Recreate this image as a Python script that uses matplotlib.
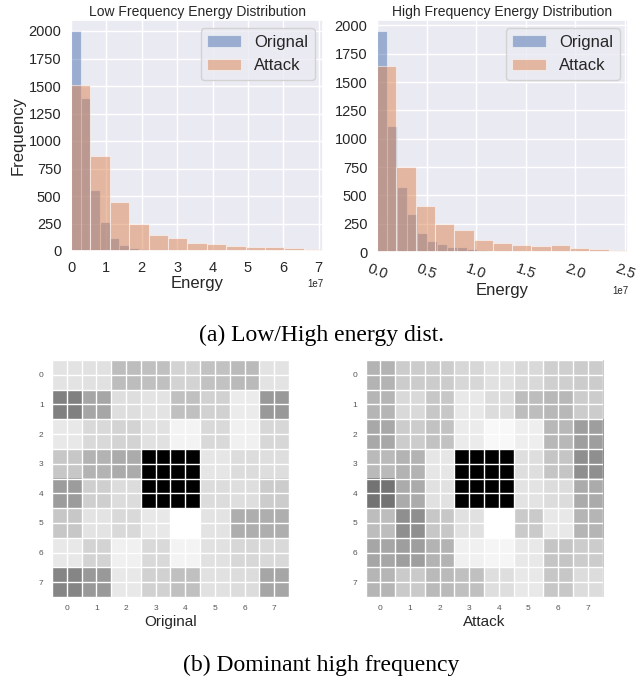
import numpy as np
import matplotlib
matplotlib.use("Agg")
import matplotlib.pyplot as plt
import seaborn as sns

sns.set_theme(style="darkgrid")
plt.rcParams['font.family'] = ['Liberation Sans', 'DejaVu Sans']

# histogram data (counts per bin, bin widths in energy units)
low_orig_counts = [2000, 1390, 556, 266, 122, 52, 27, 15, 9]
low_orig_width = 0.274e7
low_att_counts = [1508, 861, 445, 245, 148, 122, 70, 60, 48, 36, 36, 25, 15]
low_att_width = 0.548e7

high_orig_counts = [1950, 1108, 570, 334, 171, 97, 68, 47, 41, 30, 19]
high_orig_width = 0.1007e7
high_att_counts = [1645, 753, 405, 251, 192, 103, 78, 65, 50, 59, 35, 24, 15]
high_att_width = 0.1946e7

# 8x8 dominant high-frequency maps (gray intensity, 0 = black, 1 = white)
original_map = [
    [0.89, 0.88, 0.74, 0.75, 0.83, 0.76, 0.73, 0.89],
    [0.50, 0.65, 0.87, 0.89, 0.75, 0.82, 0.92, 0.60],
    [0.91, 0.85, 0.83, 0.88, 0.95, 0.85, 0.94, 0.84],
    [0.78, 0.70, 0.67, 0.00, 0.00, 0.90, 0.86, 0.87],
    [0.61, 0.81, 0.86, 0.00, 0.00, 0.86, 0.87, 0.80],
    [0.78, 0.89, 0.85, 0.91, 1.00, 0.89, 0.68, 0.68],
    [0.91, 0.83, 0.94, 0.85, 0.95, 0.88, 0.84, 0.85],
    [0.52, 0.60, 0.91, 0.82, 0.75, 0.88, 0.86, 0.65],
]
attack_map = [
    [0.70, 0.80, 0.80, 0.84, 0.88, 0.85, 0.81, 0.80],
    [0.71, 0.85, 0.78, 0.91, 0.86, 0.74, 0.72, 0.80],
    [0.66, 0.80, 0.76, 0.92, 0.97, 0.93, 0.72, 0.62],
    [0.73, 0.70, 0.90, 0.00, 0.00, 0.87, 0.77, 0.56],
    [0.45, 0.67, 0.88, 0.00, 0.00, 0.89, 0.86, 0.67],
    [0.74, 0.56, 0.78, 0.88, 1.00, 0.79, 0.91, 0.71],
    [0.65, 0.62, 0.70, 0.94, 0.96, 0.91, 0.77, 0.80],
    [0.71, 0.79, 0.73, 0.75, 0.87, 0.91, 0.78, 0.86],
]

blue = '#4c72b0'
orange = '#dd8452'

W, H = 636, 682
fig = plt.figure(figsize=(W / 100, H / 100), dpi=100)


def box(l, t, r, b):
    return [l / W, 1 - b / H, (r - l) / W, (b - t) / H]


def draw_hist(ax, oc, ow, ac, aw, title, xmax):
    oe = np.arange(len(oc)) * ow
    ae = np.arange(len(ac)) * aw
    ax.bar(oe, oc, width=ow, align='edge', color=blue, alpha=0.5,
           edgecolor='white', linewidth=0.8, label='Orignal')
    ax.bar(ae, ac, width=aw, align='edge', color=orange, alpha=0.5,
           edgecolor='white', linewidth=0.8, label='Attack')
    ax.set_xlim(0, xmax)
    ax.set_yticks(np.arange(0, 2001, 250))
    ax.set_title(title, fontsize=10, pad=3)
    ax.set_xlabel('Energy', fontsize=12, labelpad=1)
    ax.tick_params(labelsize=10.5, pad=1)
    ax.xaxis.get_offset_text().set_fontsize(7)
    ax.legend(fontsize=12, loc='upper right')


ax1 = fig.add_axes(box(71, 20, 323, 251))
draw_hist(ax1, low_orig_counts, low_orig_width, low_att_counts, low_att_width,
          'Low Frequency Energy Distribution', 7.12e7)
ax1.set_xticks(np.arange(0, 7.1e7, 1e7))
ax1.set_ylabel('Frequency', fontsize=12, labelpad=2)

ax2 = fig.add_axes(box(377, 20, 628, 252))
draw_hist(ax2, high_orig_counts, high_orig_width, high_att_counts, high_att_width,
          'High Frequency Energy Distribution', 2.53e7)
ax2.set_xticks(np.arange(0, 2.51e7, 0.5e7))
plt.setp(ax2.get_xticklabels(), rotation=-20)


def draw_map(ax, data, label):
    ax.imshow(np.array(data), cmap='gray', vmin=0, vmax=1, interpolation='nearest')
    ax.set_facecolor('white')
    ax.set_xticks(range(8))
    ax.set_yticks(range(8))
    ax.set_xticks(np.arange(-0.5, 8, 1), minor=True)
    ax.set_yticks(np.arange(-0.5, 8, 1), minor=True)
    ax.grid(True, which='major', color='white', linewidth=1)
    ax.grid(True, which='minor', color='white', linewidth=1)
    ax.tick_params(which='both', length=0, labelsize=6, labelcolor='#555555', pad=6)
    for s in ax.spines.values():
        s.set_visible(False)
    ax.set_xlabel(label, fontsize=11, color='#262626', labelpad=2)


ax3 = fig.add_axes(box(52, 360, 289, 597))
draw_map(ax3, original_map, 'Original')
ax4 = fig.add_axes(box(365, 360, 603, 597))
draw_map(ax4, attack_map, 'Attack')

fig.text(0.505, 1 - 335 / H, '(a) Low/High energy dist.', ha='center', va='center',
         fontsize=17, family='Liberation Serif', color='black')
fig.text(0.505, 1 - 665 / H, '(b) Dominant high frequency', ha='center', va='center',
         fontsize=17, family='Liberation Serif', color='black')

fig.savefig('out.png', dpi=100, facecolor='white')
